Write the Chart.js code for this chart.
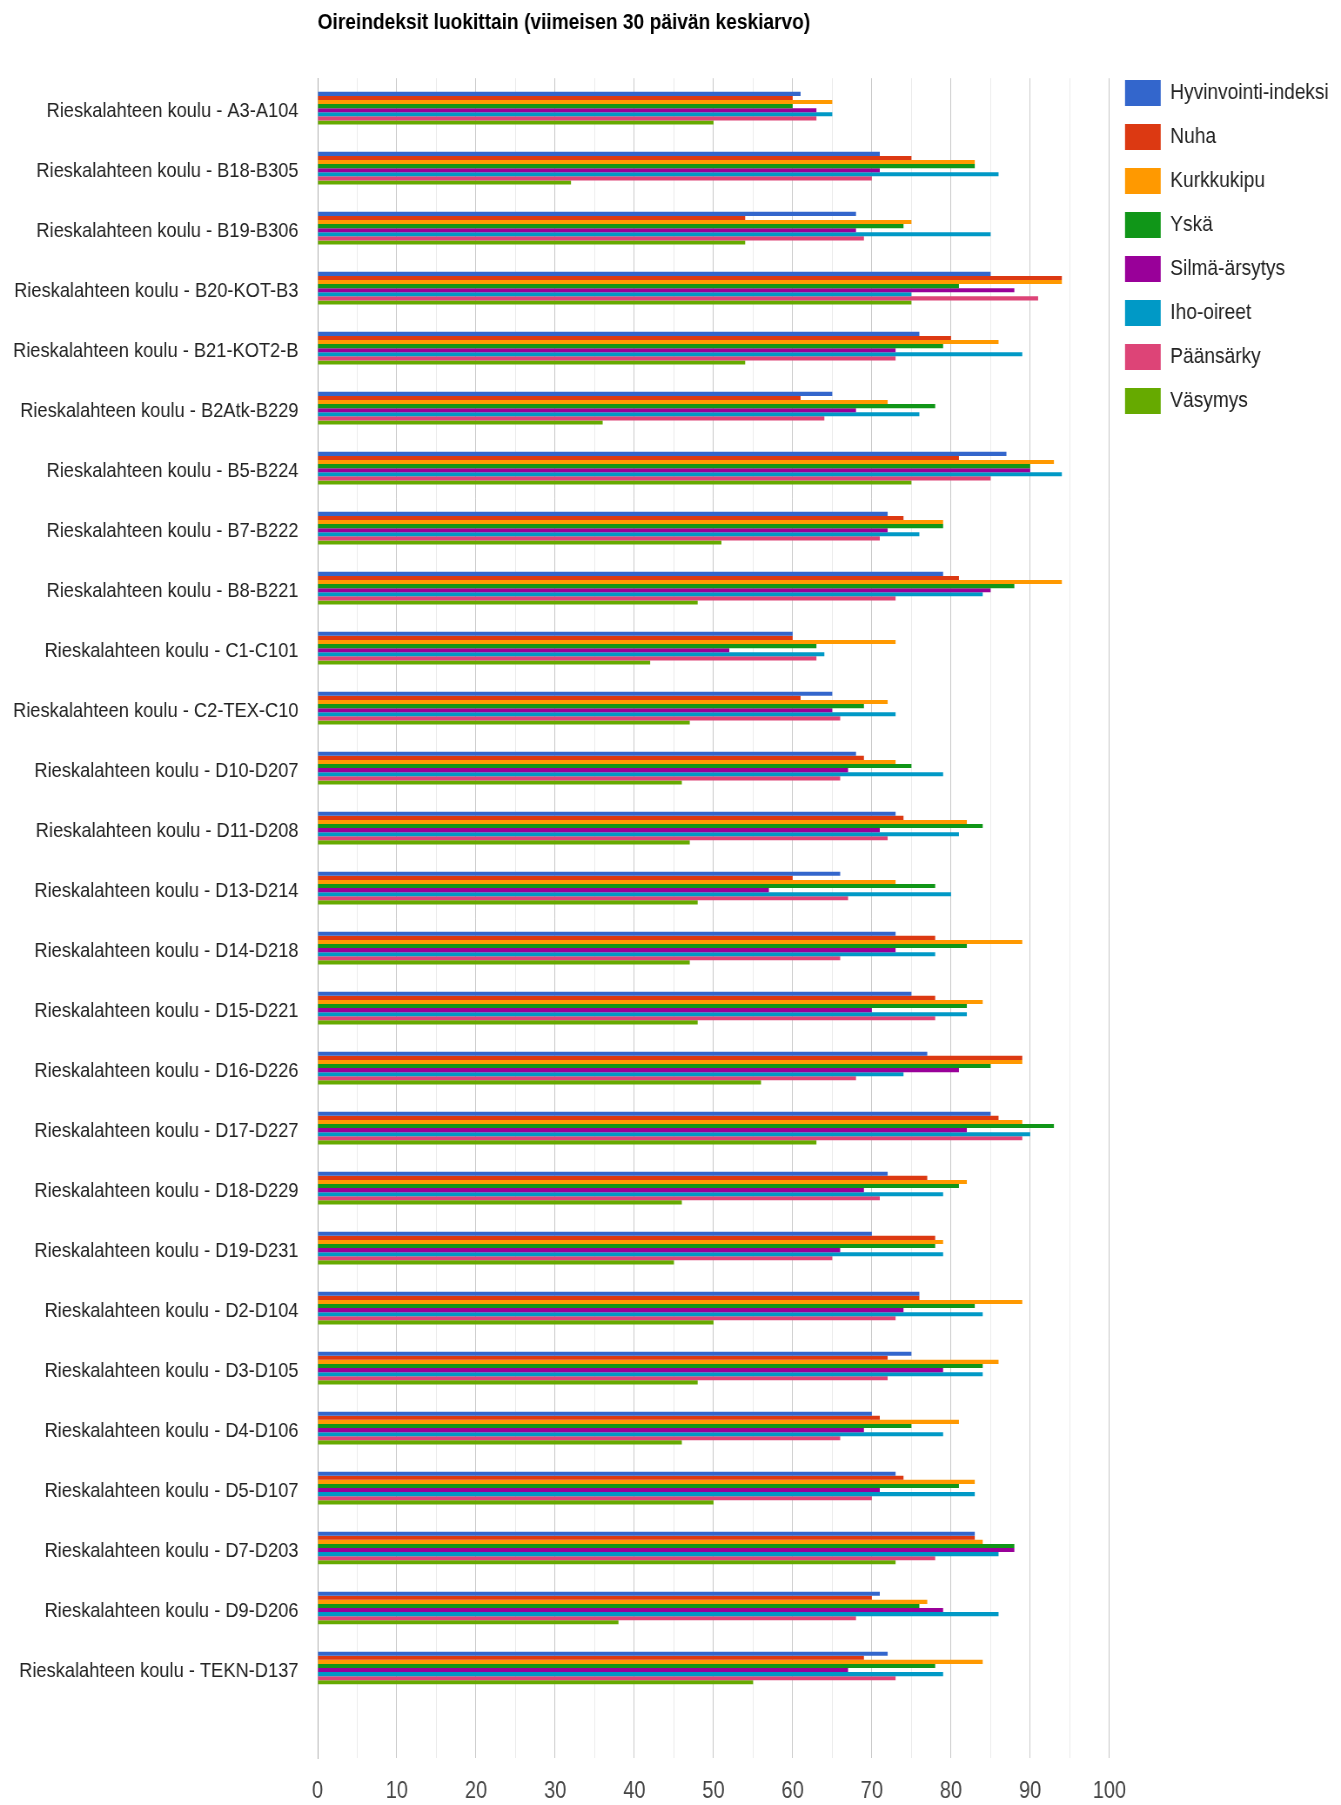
<!DOCTYPE html>
<html>
<head>
<meta charset="utf-8">
<script src="https://cdn.jsdelivr.net/npm/chart.js@4.4.1/dist/chart.umd.min.js"></script>
<style>
  body { margin: 0; background: #fff; overflow: hidden; }
  /* the reference is horizontally condensed: draw wider, then squeeze */
  #wrap { width: 1541px; height: 1805px; transform: scaleX(0.8702); transform-origin: 0 0; }
</style>
</head>
<body>
<div id="wrap"><canvas id="myChart"></canvas></div>
<script>
// Luokat
const rooms = ['A3-A104', 'B18-B305', 'B19-B306', 'B20-KOT-B3', 'B21-KOT2-B', 'B2Atk-B229',
    'B5-B224', 'B7-B222', 'B8-B221', 'C1-C101', 'C2-TEX-C10', 'D10-D207', 'D11-D208',
    'D13-D214', 'D14-D218', 'D15-D221', 'D16-D226', 'D17-D227', 'D18-D229', 'D19-D231',
    'D2-D104', 'D3-D105', 'D4-D106', 'D5-D107', 'D7-D203', 'D9-D206', 'TEKN-D137'];
const categories = rooms.map(r => 'Rieskalahteen koulu - ' + r);

// Sarjat
const hyvinvointi = [61, 71, 68, 85, 76, 65, 87, 72, 79, 60, 65, 68, 73, 66, 73, 75, 77, 85, 72, 70, 76, 75, 70, 73, 83, 71, 72];
const nuha        = [60, 75, 54, 94, 80, 61, 81, 74, 81, 60, 61, 69, 74, 60, 78, 78, 89, 86, 77, 78, 76, 72, 71, 74, 83, 70, 69];
const kurkkukipu  = [65, 83, 75, 94, 86, 72, 93, 79, 94, 73, 72, 73, 82, 73, 89, 84, 89, 89, 82, 79, 89, 86, 81, 83, 84, 77, 84];
const yska        = [60, 83, 74, 81, 79, 78, 90, 79, 88, 63, 69, 75, 84, 78, 82, 82, 85, 93, 81, 78, 83, 84, 75, 81, 88, 76, 78];
const silma       = [63, 71, 68, 88, 73, 68, 90, 72, 85, 52, 65, 67, 71, 57, 73, 70, 81, 82, 69, 66, 74, 79, 69, 71, 88, 79, 67];
const iho         = [65, 86, 85, 75, 89, 76, 94, 76, 84, 64, 73, 79, 81, 80, 78, 82, 74, 90, 79, 79, 84, 84, 79, 83, 86, 86, 79];
const paansarky   = [63, 70, 69, 91, 73, 64, 85, 71, 73, 63, 66, 66, 72, 67, 66, 78, 68, 89, 71, 65, 73, 72, 66, 70, 78, 68, 73];
const vasymys     = [50, 32, 54, 75, 54, 36, 75, 51, 48, 42, 47, 46, 47, 48, 47, 48, 56, 63, 46, 45, 50, 48, 46, 50, 73, 38, 55];

const seriesNames = ['Hyvinvointi-indeksi', 'Nuha', 'Kurkkukipu', 'Yskä', 'Silmä-ärsytys', 'Iho-oireet', 'Päänsärky', 'Väsymys'];
const seriesData = [hyvinvointi, nuha, kurkkukipu, yska, silma, iho, paansarky, vasymys];
const colors = ['#3366cc', '#dc3912', '#ff9900', '#109618', '#990099', '#0099c6', '#dd4477', '#66aa00'];

const FONT = "'Liberation Sans', Arial, sans-serif";

const ctx = document.getElementById('myChart').getContext('2d');
const chart = new Chart(ctx, {
    type: 'bar',
    data: {
        // tyhjä rivi lopussa, kuten alkuperäisessä kuvassa
        labels: [...categories, ''],
        datasets: seriesNames.map((name, i) => ({
            label: name,
            data: seriesData[i],
            backgroundColor: colors[i],
            borderWidth: 0,
            categoryPercentage: 0.545,
            barPercentage: 1
        }))
    },
    options: {
        indexAxis: 'y',
        animation: false,
        responsive: true,
        maintainAspectRatio: false,
        layout: { padding: { right: 4 } },
        plugins: {
            title: {
                display: true,
                text: 'Oireindeksit luokittain (viimeisen 30 päivän keskiarvo)',
                align: 'start',
                fullSize: false,
                color: '#000',
                font: { family: FONT, size: 22, weight: 'bold', lineHeight: 1.1 },
                padding: { top: 11, bottom: 43 }
            },
            legend: {
                position: 'right',
                align: 'start',
                title: { display: true, text: '', font: { size: 10, lineHeight: 1 }, padding: { top: 52, bottom: 0 } },
                labels: {
                    boxWidth: 41,
                    boxHeight: 26,
                    padding: 18,
                    color: '#222',
                    font: { family: FONT, size: 22 }
                }
            },
            tooltip: { enabled: false }
        },
        scales: {
            x: {
                min: 0,
                max: 100,
                border: { display: false },
                grid: {
                    drawTicks: false,
                    color: c => c.tick.value === 0 ? '#aaaaaa' : (c.tick.value % 10 === 0 ? '#c8c8c8' : '#ebebeb')
                },
                ticks: {
                    stepSize: 5,
                    autoSkip: false,
                    maxRotation: 0,
                    padding: 20,
                    color: '#444',
                    font: { family: FONT, size: 23 },
                    callback: v => v % 10 === 0 ? v : ''
                },
                afterFit: s => { s.height = 47; }
            },
            y: {
                grid: { display: false },
                border: { display: true, color: '#aaaaaa' },
                ticks: {
                    padding: 14,
                    labelOffset: 3,
                    color: '#222',
                    font: { family: FONT, size: 21 }
                },
                afterFit: s => { s.width = 365; }
            }
        }
    }
});
</script>
</body>
</html>
